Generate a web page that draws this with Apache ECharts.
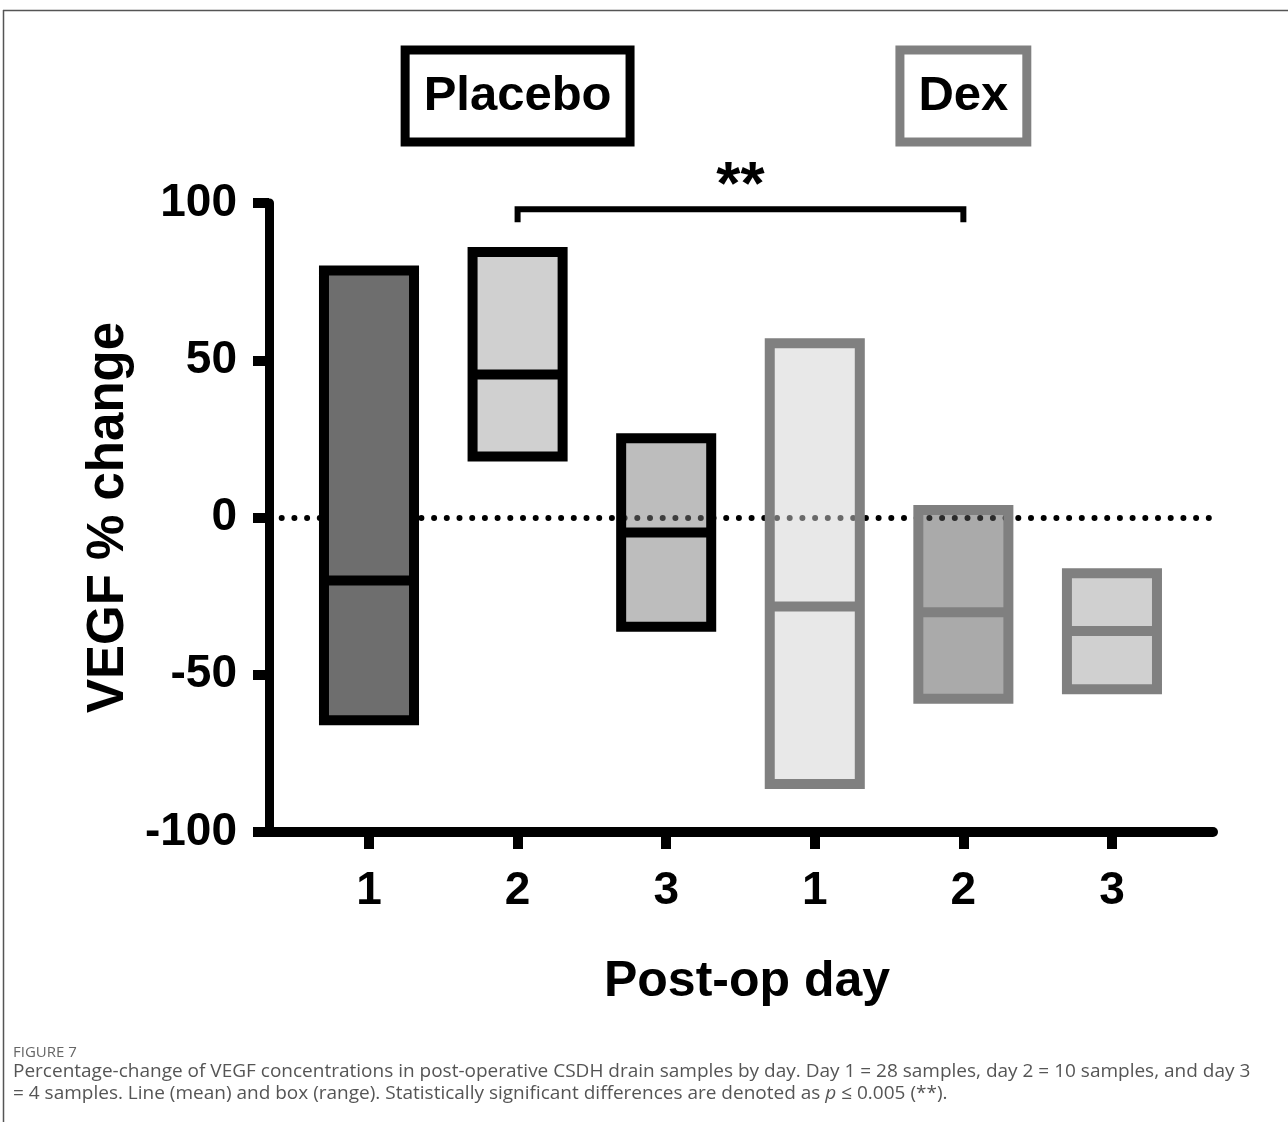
<!DOCTYPE html>
<html>
<head>
<meta charset="utf-8">
<script src="https://cdn.jsdelivr.net/npm/echarts@6/dist/echarts.min.js"></script>
<style>
  html, body { margin: 0; padding: 0; background: #ffffff; }
  #chart { width: 1288px; height: 1122px; }
</style>
</head>
<body>
<div id="chart"></div>
<script>
// ---------------- data ----------------
const dayLabels   = ['1', '2', '3', '1', '2', '3'];
const xPositions  = [1, 2, 3, 4, 5, 6];
const rangeMax    = [78.5, 84.4, 25.2, 55.4, 2.4, -17.7];
const rangeMin    = [-64.5, 19.4, -34.7, -84.7, -57.6, -54.6];
const meanValues  = [-20.0, 45.5, -4.8, -28.3, -30.1, -36.1];
const groupNames  = ['Placebo', 'Dex'];
const groupCenter = [2, 5];
const sigPair     = [2, 5];
const sigLevel    = 98;
const sigText     = '**';
const yMin = -100, yMax = 100, yStep = 50;
const xAxisTitle  = 'Post-op day';
const yAxisTitle  = 'VEGF % change';
const captionTitle = 'FIGURE 7';
const captionLine1 = 'Percentage-change of VEGF concentrations in post-operative CSDH drain samples by day. Day 1 = 28 samples, day 2 = 10 samples, and day 3';
const captionLine2 = '= 4 samples. Line (mean) and box (range). Statistically significant differences are denoted as {i|p} {u|≤} 0.005 (**).';

// ---------------- styles ----------------
const FONT = '"Liberation Sans", Arial, Helvetica, sans-serif';
const CAP_FONT = '"Open Sans", "Noto Sans", sans-serif';
const boxFill   = ['#6e6e6e', 'rgba(161,161,161,0.5)', 'rgba(123,123,123,0.5)', 'rgba(209,209,209,0.5)', 'rgba(85,85,85,0.5)', 'rgba(161,161,161,0.5)'];
const boxStroke = ['#000000', '#000000', '#000000', '#808080', '#808080', '#808080'];
const groupStroke = ['#000000', '#808080'];
const X_MIN = 0.327, X_MAX = 6.68;
const BOX_W = 0.606;

const boxData = xPositions.map((x, i) => [x, rangeMin[i], rangeMax[i], meanValues[i]]);

function renderBox(params, api) {
  const i = params.dataIndex;
  const x = api.value(0);
  const pLo = api.coord([x, api.value(1)]);
  const pHi = api.coord([x, api.value(2)]);
  const pMean = api.coord([x, api.value(3)]);
  const half = api.size([BOX_W, 0])[0] / 2;
  return {
    type: 'group',
    children: [
      { type: 'rect',
        shape: { x: pHi[0] - half, y: pHi[1], width: 2 * half, height: pLo[1] - pHi[1] },
        style: { fill: boxFill[i], stroke: boxStroke[i], lineWidth: 10 } },
      { type: 'line',
        shape: { x1: pMean[0] - half, y1: pMean[1], x2: pMean[0] + half, y2: pMean[1] },
        style: { stroke: boxStroke[i], lineWidth: 10 } }
    ]
  };
}

function renderBracket(params, api) {
  const a = api.coord([api.value(0), api.value(2)]);
  const b = api.coord([api.value(1), api.value(2)]);
  const drop = 13;
  return {
    type: 'group',
    children: [
      { type: 'polyline',
        shape: { points: [[a[0], a[1] + drop], [a[0], a[1]], [b[0], b[1]], [b[0], b[1] + drop]] },
        style: { stroke: '#000', lineWidth: 6, fill: null, lineJoin: 'miter' } },
      { type: 'text', x: (a[0] + b[0]) / 2, y: a[1] - 22,
        style: { text: sigText, fontSize: 62, fontWeight: 'bold', fontFamily: FONT,
                 fill: '#000', align: 'center', verticalAlign: 'middle' } }
    ]
  };
}

function renderGroup(params, api) {
  const i = params.dataIndex;
  const x = api.coord([api.value(0), 0])[0];
  return {
    type: 'text', x: x, y: 96,
    style: {
      text: groupNames[i], fontSize: 49, fontWeight: 'bold', fontFamily: FONT,
      fill: '#000', align: 'center', verticalAlign: 'middle', lineHeight: 49,
      padding: [17, 14, 17, 14], borderColor: groupStroke[i], borderWidth: 9,
      backgroundColor: '#fff'
    }
  };
}

const chart = echarts.init(document.getElementById('chart'), null, { renderer: 'canvas' });
chart.setOption({
  animation: false,
  backgroundColor: '#ffffff',
  grid: { left: 269, right: 75, top: 203, bottom: 290, containLabel: false, outerBoundsMode: 'none' },
  xAxis: {
    type: 'value', min: X_MIN, max: X_MAX,
    axisLine: { show: true, onZero: false, lineStyle: { color: '#000', width: 10 } },
    axisTick: { show: true, customValues: xPositions, length: 17, lineStyle: { color: '#000', width: 10 } },
    axisLabel: {
      customValues: xPositions,
      formatter: v => dayLabels[xPositions.indexOf(v)],
      margin: 36, fontSize: 46, fontWeight: 'bold', fontFamily: FONT, color: '#000', lineHeight: 46
    },
    splitLine: { show: false },
    name: xAxisTitle, nameLocation: 'middle', nameGap: 125,
    nameTextStyle: { fontSize: 50, fontWeight: 'bold', fontFamily: FONT, color: '#000', lineHeight: 50, padding: [0, 0, 0, 12] }
  },
  yAxis: {
    type: 'value', min: yMin, max: yMax, interval: yStep,
    axisLine: { show: true, onZero: false, lineStyle: { color: '#000', width: 9 } },
    axisTick: { show: true, length: 16, lineStyle: { color: '#000', width: 10 } },
    axisLabel: { margin: 32, fontSize: 46, fontWeight: 'bold', fontFamily: FONT, color: '#000' },
    splitLine: { show: false },
    name: yAxisTitle, nameLocation: 'middle', nameGap: 135,
    nameTextStyle: { fontSize: 51, fontWeight: 'bold', fontFamily: FONT, color: '#000', lineHeight: 51 }
  },
  series: [
    {
      type: 'line', data: [], z: 1, silent: true,
      markLine: {
        z: 1, silent: true, symbol: 'none', label: { show: false },
        lineStyle: { color: '#000', width: 6, type: [0, 12.7], cap: 'round' },
        emphasis: { disabled: true },
        data: [{ yAxis: 0 }]
      }
    },
    { type: 'custom', z: 3, silent: true, renderItem: renderBox, data: boxData },
    { type: 'custom', z: 4, silent: true, clip: false, renderItem: renderBracket, data: [[sigPair[0], sigPair[1], sigLevel]] },
    { type: 'custom', z: 4, silent: true, clip: false, renderItem: renderGroup, data: groupCenter.map(c => [c]) }
  ],
  graphic: [
    { type: 'line', silent: true, shape: { x1: 3, y1: 10.5, x2: 1288, y2: 10.5 }, style: { stroke: '#555', lineWidth: 1.5 } },
    { type: 'line', silent: true, shape: { x1: 3.5, y1: 10, x2: 3.5, y2: 1122 }, style: { stroke: '#555', lineWidth: 1.5 } },
    { type: 'text', silent: true, left: 13, top: 1045,
      style: { text: captionTitle, font: '15px ' + CAP_FONT, fill: '#666' } },
    { type: 'text', silent: true, left: 13, top: 1061,
      style: { text: captionLine1, font: '19px ' + CAP_FONT, fill: '#555', lineHeight: 22 } },
    { type: 'text', silent: true, left: 13, top: 1083,
      style: { text: captionLine2, font: '19px ' + CAP_FONT, fill: '#555', lineHeight: 22,
               rich: { i: { fontStyle: 'italic', fontSize: 19, fontFamily: CAP_FONT, fill: '#555' },
                       u: { fontSize: 19, fontFamily: CAP_FONT, fill: '#555' } } } }
  ]
});
</script>
</body>
</html>
